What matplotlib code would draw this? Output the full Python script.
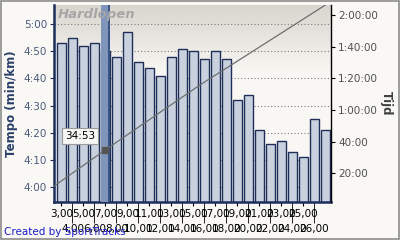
import numpy as np
import matplotlib.pyplot as plt
from matplotlib.patches import Rectangle

# split data (km, pace in seconds per km)
km = list(range(3, 28))
pace_s = [293, 295, 292, 293, 290, 288, 297, 286, 284, 281, 288, 291, 290,
          287, 290, 287, 272, 274, 261, 256, 257, 253, 251, 265, 261]
sel_km = 7

# cumulative time line (km, minutes)
cum_km = [2.0, 7.0, 15.6, 27.05, 27.6]
cum_min = [10.3, 34.88, 75.9, 126.7, 129.1]
sel_label = '34:53'

pace_ticks = [240, 250, 260, 270, 280, 290, 300]
time_ticks = [20, 40, 60, 80, 100, 120]
odd_km = list(range(3, 26, 2))
even_km = list(range(4, 27, 2))


def fmt_pace(s):
    s = int(round(s))
    return '%d:%02d' % (s // 60, s % 60)


def fmt_time(m):
    s = int(round(m * 60))
    h, r = divmod(s, 3600)
    mm, ss = divmod(r, 60)
    if h:
        return '%d:%02d:%02d' % (h, mm, ss)
    return '%d:%02d' % (mm, ss)


fig = plt.figure(figsize=(4, 2.4), dpi=100, facecolor='#f9f8f4')
fig.patches.append(Rectangle((0.002, 0.003), 0.995, 0.994, transform=fig.transFigure,
                             fill=False, edgecolor='#8c8c8c', lw=1.2))
ax = fig.add_axes([0.135, 0.158, 0.6925, 0.823])

# background gradient
grad = np.ones((100, 1, 3))
top = np.array([0.85, 0.835, 0.81])
bot = np.array([0.975, 0.97, 0.955])
for i in range(100):
    t = min(i / 35.0, 1.0)
    grad[i, 0, :] = top * (1 - t) + bot * t
ax.imshow(grad, extent=[0, 1, 0, 1], transform=ax.transAxes, aspect='auto', zorder=0)

ax.grid(axis='y', color='#7a7a7a', linestyle=(0, (1, 2)), lw=0.8, zorder=1)
ax.bar(km, pace_s, width=0.82, color='#c9d1df', edgecolor='#1f2f5a', lw=1.0, zorder=2)
ax.axvspan(sel_km - 0.4, sel_km + 0.2, color='#7f96ba', zorder=3, lw=0)
ax.axvspan(sel_km + 0.2, sel_km + 0.42, color='#3a5486', zorder=3, lw=0)

ax.set_xlim(2.32, 27.5)
ax.set_ylim(234.5, 307.2)
ax.set_yticks(pace_ticks, [fmt_pace(p) for p in pace_ticks])
ax.set_xticks(odd_km, ['%d,00' % k for k in odd_km])
ax.set_xticks(even_km, ['%d,00' % k for k in even_km], minor=True)
ax.tick_params(axis='x', which='major', length=3, pad=2, labelsize=7.5, color='black')
ax.tick_params(axis='x', which='minor', length=15, pad=1, labelsize=7.5, color='black')
ax.tick_params(axis='y', length=3, pad=2, labelsize=7.5, labelcolor='#4a5a7c', color='#1f2f5a')
for s in ['top', 'right']:
    ax.spines[s].set_visible(False)
ax.spines['left'].set_color('#1c2f5c')
ax.spines['left'].set_linewidth(1.8)
ax.spines['bottom'].set_color('#1c2f5c')
ax.spines['bottom'].set_linewidth(1.8)
ax.set_ylabel('Tempo (min/km)', fontsize=8.5, fontweight='bold', color='#2b3f6b', labelpad=4)

ax.text(0.015, 0.985, 'Hardlopen', transform=ax.transAxes, ha='left', va='top',
        fontsize=9.5, fontweight='bold', style='italic', color='#a6a6a6', zorder=5)

ax2 = ax.twinx()
ax2.patch.set_visible(False)
ax2.plot(cum_km, cum_min, color='#6e6e6e', lw=0.9, zorder=4)
ax2.set_ylim(1.8, 126.7)
ax2.set_yticks(time_ticks, [fmt_time(t) for t in time_ticks])
ax2.tick_params(axis='y', length=3, pad=2, labelsize=7.5, labelcolor='#505050', color='black')
for s in ['top', 'left', 'bottom']:
    ax2.spines[s].set_visible(False)
ax2.spines['right'].set_color('black')
ax2.spines['right'].set_linewidth(1.0)
ax2.set_ylabel('Tijd', fontsize=8.5, fontweight='bold', color='#404040', rotation=270, labelpad=11)

ax2.plot([sel_km], [cum_min[1]], marker='s', ms=5, color='#555555', zorder=6)
ax2.annotate(sel_label, xy=(sel_km, cum_min[1]), xytext=(-29, 10), textcoords='offset points',
             fontsize=7.5, color='black', ha='left', va='center', zorder=7,
             bbox=dict(boxstyle='square,pad=0.3', fc='#f6f6f2', ec='#9a9a9a', lw=0.8))

fig.text(0.01, 0.035, 'Created by SportTracks', fontsize=7.5, color='#1c1cc8', ha='left', va='center')

fig.savefig('out.png', dpi=100)
